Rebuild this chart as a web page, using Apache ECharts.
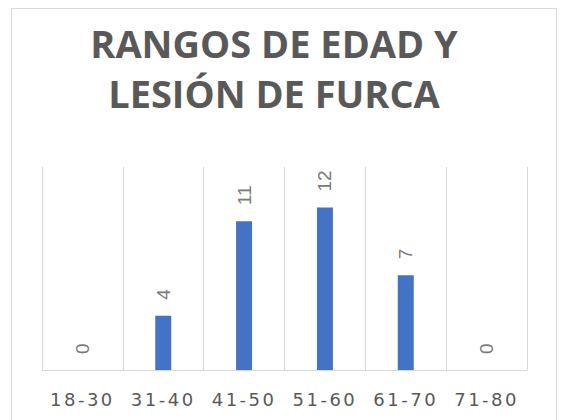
<!DOCTYPE html>
<html>
<head>
<meta charset="utf-8">
<script src="https://cdn.jsdelivr.net/npm/echarts@6/dist/echarts.min.js"></script>
<style>
  html, body { margin: 0; padding: 0; background: #fff; }
  #chart { width: 561px; height: 420px; }
  /* category labels are spaced out in the original */
  #chart text[style*=" 18px"] { letter-spacing: 2.5px; }
</style>
</head>
<body>
<div id="chart"></div>
<script>
const titleLines = ['RANGOS DE EDAD Y', 'LESIÓN DE FURCA'];
const ageRanges = ['18-30', '31-40', '41-50', '51-60', '61-70', '71-80'];
const patientCounts = [0, 4, 11, 12, 7, 0];

const chart = echarts.init(document.getElementById('chart'), null, { renderer: 'svg' });

const option = {
  backgroundColor: '#fff',
  animation: false,
  title: {
    text: titleLines.join('\n'),
    left: 269,
    top: 13,
    textAlign: 'center',
    textStyle: {
      fontFamily: 'Open Sans',
      fontWeight: 'bold',
      fontSize: 38,
      lineHeight: 50,
      color: '#595959'
    }
  },
  graphic: [
    {
      type: 'rect',
      shape: { x: 11.5, y: 8.5, width: 545, height: 460 },
      style: { fill: 'none', stroke: '#d9d9d9', lineWidth: 1 },
      silent: true
    }
  ],
  grid: {
    left: 42,
    right: 34,
    top: 167,
    bottom: 50
  },
  xAxis: {
    type: 'category',
    data: ageRanges,
    axisLine: { lineStyle: { color: '#d9d9d9', width: 1 } },
    axisTick: { show: false },
    splitLine: { show: true, lineStyle: { color: '#d9d9d9', width: 1 } },
    axisLabel: {
      margin: 20,
      fontFamily: 'DejaVu Sans',
      fontSize: 18,
      color: '#595959'
    }
  },
  yAxis: {
    type: 'value',
    min: 0,
    max: 15,
    show: false,
    splitLine: { show: false }
  },
  series: [
    {
      type: 'bar',
      data: patientCounts,
      barWidth: 16,
      itemStyle: { color: '#4472c4' },
      label: {
        show: true,
        position: 'top',
        distance: 16,
        rotate: 90,
        align: 'left',
        verticalAlign: 'middle',
        fontFamily: 'Liberation Sans',
        fontSize: 19,
        color: '#7a7a7a'
      }
    }
  ]
};

chart.setOption(option);
</script>
</body>
</html>
